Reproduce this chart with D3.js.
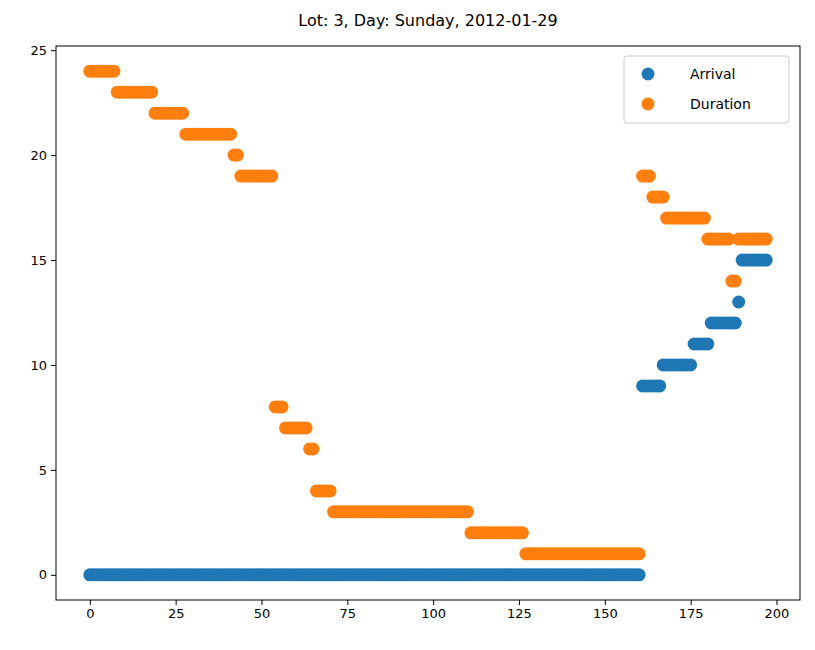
<!DOCTYPE html>
<html>
<head>
<meta charset="utf-8">
<script src="https://cdn.jsdelivr.net/npm/d3@7"></script>
<style>
  body { margin: 0; background: #fff; }
  text { font-family: "DejaVu Sans", sans-serif; }
</style>
</head>
<body>
<svg id="chart" width="815" height="650"></svg>
<script>
// runs of [value, count], in index order starting at 0
const arrivalRuns = [[0, 161], [9, 6], [10, 9], [11, 5], [12, 8], [13, 1], [15, 8]];
const durationRuns = [[24, 8], [23, 11], [22, 9], [21, 14], [20, 2], [19, 10], [8, 3], [7, 7],
  [6, 2], [4, 5], [3, 40], [2, 16], [1, 34], [19, 3], [18, 4], [17, 12], [16, 7], [14, 2], [16, 9]];
const xTicks = [0, 25, 50, 75, 100, 125, 150, 175, 200];
const yTicks = [0, 5, 10, 15, 20, 25];
const seriesNames = ["Arrival", "Duration"];
const colors = ["#1f77b4", "#ff7f0e"];

const expand = runs => runs.flatMap(([v, n]) => Array(n).fill(v));
const series = [expand(arrivalRuns), expand(durationRuns)];

const svg = d3.select("#chart");
const m = {left: 56, right: 800, top: 46, bottom: 600};
const n = series[0].length - 1;
const x = d3.scaleLinear().domain([-0.05 * n, n * 1.05]).range([m.left, m.right]);
const y = d3.scaleLinear().domain([-1.2, 25.2]).range([m.bottom, m.top]);

series.forEach((vals, i) => {
  svg.append("g").selectAll("circle").data(vals).join("circle")
    .attr("cx", (d, j) => x(j))
    .attr("cy", d => y(d))
    .attr("r", 6.5)
    .attr("fill", colors[i]);
});

svg.append("g").attr("transform", `translate(0,${m.bottom})`)
  .call(d3.axisBottom(x).tickValues(xTicks).tickSize(5).tickPadding(4))
  .call(g => g.selectAll("text").attr("font-size", 13).attr("fill", "#000"));
svg.append("g").attr("transform", `translate(${m.left},0)`)
  .call(d3.axisLeft(y).tickValues(yTicks).tickSize(5).tickPadding(4))
  .call(g => g.selectAll("text").attr("font-size", 13).attr("fill", "#000"));
svg.selectAll(".domain").remove();

svg.append("rect").attr("x", m.left).attr("y", m.top)
  .attr("width", m.right - m.left).attr("height", m.bottom - m.top)
  .attr("fill", "none").attr("stroke", "#000").attr("stroke-width", 1);

svg.append("text").attr("x", (m.left + m.right) / 2).attr("y", 26)
  .attr("text-anchor", "middle").attr("font-size", 16).text("Lot: 3, Day: Sunday, 2012-01-29");

const legend = svg.append("g").attr("transform", "translate(624,56)");
legend.append("rect").attr("width", 165).attr("height", 67).attr("rx", 3)
  .attr("fill", "#fff").attr("stroke", "#ccc");
seriesNames.forEach((name, i) => {
  legend.append("circle").attr("cx", 24).attr("cy", 18 + i * 30).attr("r", 6.5).attr("fill", colors[i]);
  legend.append("text").attr("x", 66).attr("y", 23 + i * 30).attr("font-size", 14).text(name);
});
</script>
</body>
</html>
